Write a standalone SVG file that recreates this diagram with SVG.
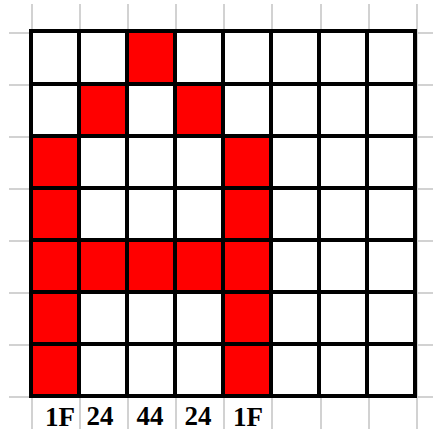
<svg xmlns="http://www.w3.org/2000/svg" width="433" height="432" viewBox="0 0 433 432">
<style>
.bg{fill:#ffffff}
.gray{stroke:#d2d2d2;stroke-width:2;fill:none}
.red{fill:#ff0000}
.blk{stroke:#000000;stroke-width:4;fill:none;stroke-linecap:square}
.lbl{font-family:"Liberation Serif","Times New Roman",serif;font-weight:bold;font-size:27px;fill:#000;text-anchor:middle}
</style>
<rect class="bg" x="0" y="0" width="433" height="432"/>
<g id="background-grid">
<path class="gray" d="M32 4V429M80 4V429M128 4V429M176 4V429M224 4V429M272 4V429M321 4V429M369 4V429M417 4V429M9 33H433M9 85H433M9 137H433M9 189H433M9 241H433M9 293H433M9 345H433M9 397H433"/>
</g>
<g id="cells">
<rect x="31" y="31" width="384" height="365" fill="#ffffff"/>
<rect class="red" x="127" y="31" width="48" height="53"/>
<rect class="red" x="79" y="84" width="48" height="52"/>
<rect class="red" x="175" y="84" width="48" height="52"/>
<rect class="red" x="31" y="136" width="48" height="260"/>
<rect class="red" x="223" y="136" width="48" height="260"/>
<rect class="red" x="79" y="240" width="144" height="52"/>
</g>
<g id="grid-lines">
<path class="blk" d="M31 31H415V396H31ZM79 31V396M127 31V396M175 31V396M223 31V396M271 31V396M319 31V396M367 31V396M31 84H415M31 136H415M31 188H415M31 240H415M31 292H415M31 344H415"/>
</g>
<g id="labels">
<text class="lbl" x="60" y="426">1F</text>
<text class="lbl" x="100" y="425">24</text>
<text class="lbl" x="150" y="425">44</text>
<text class="lbl" x="198" y="425">24</text>
<text class="lbl" x="248" y="426">1F</text>
</g>
</svg>
